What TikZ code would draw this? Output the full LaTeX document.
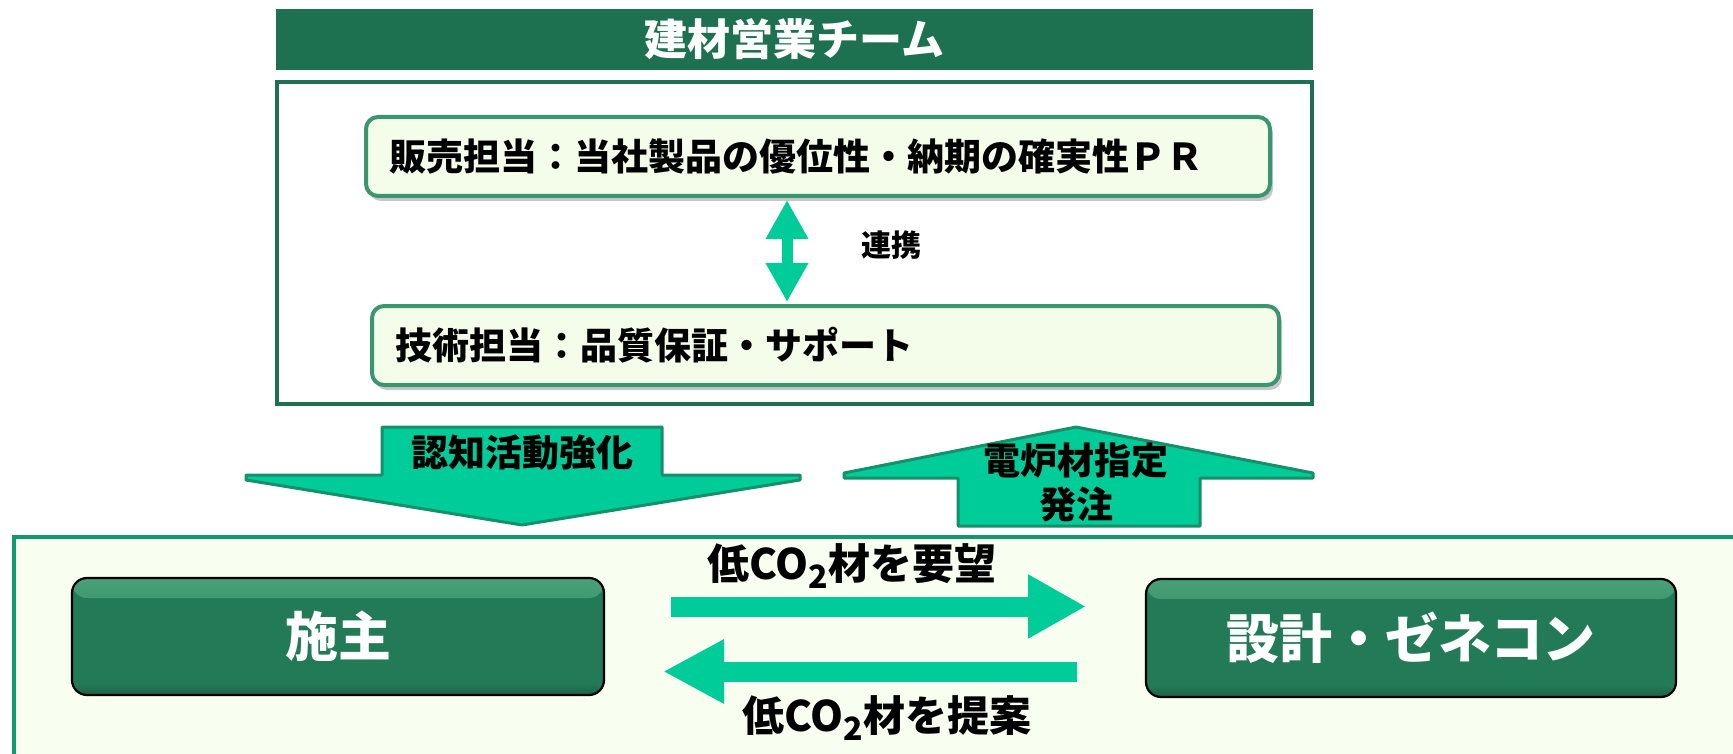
\documentclass[tikz,border=0pt]{standalone}
\usepackage{fontspec}
\setmainfont{Noto Sans CJK JP}
\usetikzlibrary{arrows.meta,shadows}
\definecolor{hdr}{RGB}{30,113,80}
\definecolor{boxln}{RGB}{58,150,110}
\definecolor{boxfill}{RGB}{244,253,234}
\definecolor{acc}{RGB}{0,204,153}
\definecolor{arrln}{RGB}{22,144,104}
\definecolor{panelln}{RGB}{16,152,112}
\definecolor{panelfill}{RGB}{248,255,240}
\definecolor{dk}{RGB}{34,122,87}
\definecolor{dkhi}{RGB}{72,160,120}
\newcommand{\fsz}[1]{\fontsize{#1}{#1}\selectfont\bfseries}
\tikzset{
  rolebox/.style={draw=boxln, line width=4pt, fill=boxfill, rounded corners=12pt,
    minimum height=79pt, inner xsep=23pt, align=left, font=\fsz{37pt},
    drop shadow={shadow xshift=3pt, shadow yshift=-5pt, opacity=0.22, fill=black}},
  bigarrow/.style={fill=acc, draw=arrln, line width=3pt, line join=bevel},
  arrtext/.style={font=\fsz{37pt}, align=center},
  actor/.style={fill=dk, draw=black, line width=2.2pt, rounded corners=15pt,
    text=white, font=\fsz{53pt},
    path picture={\shade[top color=dkhi, bottom color=dk]
      (path picture bounding box.north west) rectangle ([yshift=-20pt]path picture bounding box.north east);
      \shade[bottom color=dk!80!black, top color=dk]
      ([yshift=12pt]path picture bounding box.south west) rectangle (path picture bounding box.south east);}},
  flow/.style={acc, line width=20pt},
  flowtext/.style={font=\fsz{42pt}}
}
\newcommand{\cotwo}{CO\raisebox{-0.4ex}{\fontsize{32pt}{32pt}\selectfont 2}}
\begin{document}
\begin{tikzpicture}[x=1pt,y=-1pt]
\useasboundingbox (0,0) rectangle (1733,754);
% header and team frame
\node (hdr) [fill=hdr, minimum width=1037pt, minimum height=61pt, inner sep=0pt,
  text=white, font=\fsz{43pt}] at (794.5,39.5) {建材営業チーム};
\node (team) [draw=hdr, fill=white, line width=4pt, minimum width=1035pt,
  minimum height=322pt] at (794.5,243) {};
\node (sales) [rolebox, minimum width=904pt, text width=858pt] at (818,156.5)
  {販売担当：当社製品の優位性・納期の確実性ＰＲ};
\node (tech) [rolebox, minimum width=907pt, text width=861pt] at (825.5,345.5)
  {技術担当：品質保証・サポート};
\coordinate (lk) at (787,250);
\draw[acc, line width=11pt, {Triangle[width=40pt,length=39pt]}-{Triangle[width=40pt,length=39pt]}]
  ([yshift=-2pt]sales.south -| lk) -- ([yshift=2pt]tech.north -| lk);
\node (renkei) [font=\fsz{30pt}] at (891,245) {連携};
% big arrows
\draw[bigarrow] (382,427) -- (662,427) -- (662,475) -- (800,475) -- (800,480)
  -- (522,525) -- (246,480) -- (246,475) -- (382,475) -- cycle;
\node (dn) [arrtext] at (522,453) {認知活動強化};
\draw[bigarrow] (1076,427) -- (1313,473) -- (1313,478) -- (1200,478) -- (1200,526)
  -- (958,526) -- (958,478) -- (844,478) -- (844,473) -- cycle;
\node (up) [arrtext, font=\fontsize{37pt}{44pt}\selectfont\bfseries] at (1076,482) {電炉材指定\\発注};
% bottom panel
\node (panel) [draw=panelln, fill=panelfill, line width=4pt, anchor=north west,
  minimum width=1740pt, minimum height=240pt, inner sep=0pt] at (12,535) {};
\node (owner) [actor, minimum width=532pt, minimum height=117pt] at (338,636.5) {施主};
\node (gc) [actor, minimum width=530pt, minimum height=118pt] at (1411,638) {設計・ゼネコン};
\coordinate (r1) at (671,606.5);
\coordinate (r2) at (1086,606.5);
\coordinate (l1) at (1077,671.5);
\coordinate (l2) at (663,671.5);
\draw[flow, -{Triangle[length=58pt,width=60pt]}] (r1) -- (r2);
\draw[flow, -{Triangle[length=61pt,width=60pt]}] (l1) -- (l2);
\node (req) [flowtext] at (852,566) {低\cotwo 材を要望};
\node (prop) [flowtext] at (887,718) {低\cotwo 材を提案};
\end{tikzpicture}
\end{document}
